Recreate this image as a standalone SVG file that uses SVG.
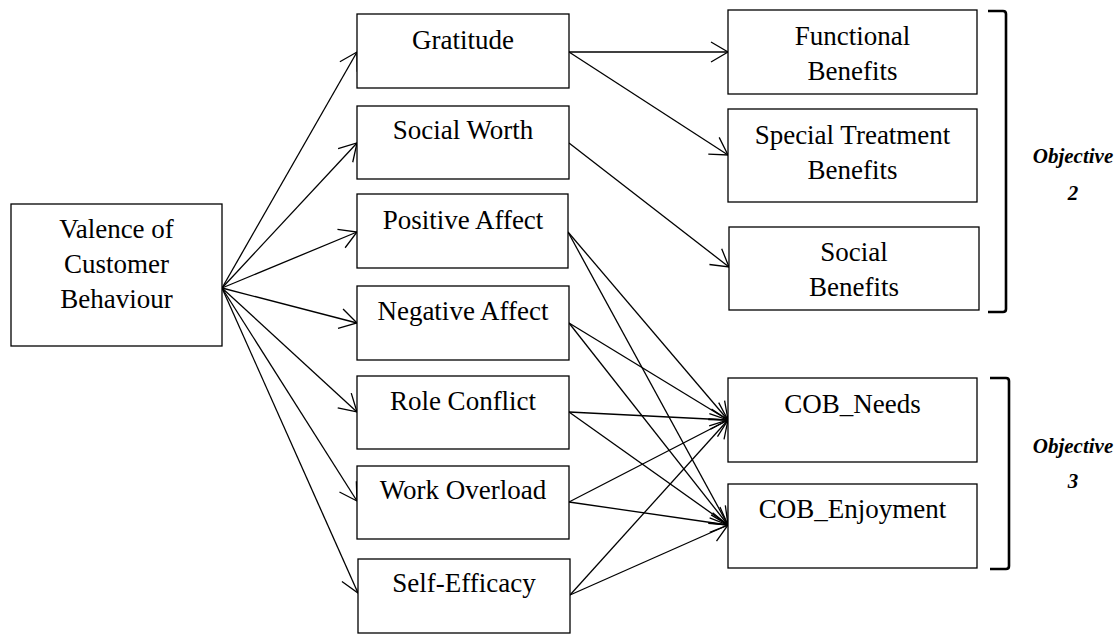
<svg xmlns="http://www.w3.org/2000/svg" width="1120" height="634" viewBox="0 0 1120 634">
  <style>
    .box { fill: #ffffff; stroke: #000000; stroke-width: 1.3; }
    .lbl { font-family: "Liberation Serif", "Times New Roman", serif; font-size: 27px; fill: #000000; text-anchor: middle; }
    .obj { font-family: "Liberation Serif", "Times New Roman", serif; font-size: 21px; font-weight: bold; font-style: italic; fill: #000000; text-anchor: middle; }
    .edge { fill: none; stroke: #000000; stroke-width: 1.3; marker-end: url(#open); }
    .brace { fill: none; stroke: #000000; stroke-width: 2.6; }
  </style>
  <defs>
    <marker id="open" markerUnits="userSpaceOnUse" markerWidth="24" markerHeight="24" refX="18" refY="11" orient="auto">
      <path d="M1,1 L18,11 L1,21" fill="none" stroke="#000000" stroke-width="1.3"/>
    </marker>
  </defs>

  <!-- connectors -->
  <g id="connectors">
    <line class="edge" x1="222" y1="288" x2="357" y2="52"/>
    <line class="edge" x1="222" y1="288" x2="357" y2="143"/>
    <line class="edge" x1="222" y1="288" x2="357" y2="232"/>
    <line class="edge" x1="222" y1="288" x2="357" y2="323"/>
    <line class="edge" x1="222" y1="288" x2="357" y2="412"/>
    <line class="edge" x1="222" y1="288" x2="357" y2="501"/>
    <line class="edge" x1="222" y1="288" x2="358" y2="593"/>

    <line class="edge" x1="569" y1="52" x2="728" y2="52"/>
    <line class="edge" x1="569" y1="52" x2="728" y2="155"/>
    <line class="edge" x1="569" y1="143" x2="729" y2="267"/>

    <line class="edge" x1="568" y1="232" x2="728" y2="420"/>
    <line class="edge" x1="568" y1="232" x2="728" y2="525"/>
    <line class="edge" x1="569" y1="323" x2="728" y2="420"/>
    <line class="edge" x1="569" y1="323" x2="728" y2="525"/>
    <line class="edge" x1="569" y1="412" x2="728" y2="420"/>
    <line class="edge" x1="569" y1="412" x2="728" y2="525"/>
    <line class="edge" x1="569" y1="502" x2="728" y2="420"/>
    <line class="edge" x1="569" y1="502" x2="728" y2="525"/>
    <line class="edge" x1="570" y1="595" x2="728" y2="420"/>
    <line class="edge" x1="570" y1="595" x2="728" y2="525"/>
  </g>

  <!-- source -->
  <g id="valence">
    <rect class="box" x="11" y="204" width="211" height="142"/>
    <text class="lbl" x="116.5" y="238">Valence of</text>
    <text class="lbl" x="116.5" y="273">Customer</text>
    <text class="lbl" x="116.5" y="308">Behaviour</text>
  </g>

  <!-- mediators -->
  <g id="gratitude">
    <rect class="box" x="357" y="14" width="212" height="74"/>
    <text class="lbl" x="463" y="49">Gratitude</text>
  </g>
  <g id="social-worth">
    <rect class="box" x="357" y="106" width="212" height="73"/>
    <text class="lbl" x="463" y="139">Social Worth</text>
  </g>
  <g id="positive-affect">
    <rect class="box" x="357" y="194" width="211" height="74"/>
    <text class="lbl" x="463" y="229">Positive Affect</text>
  </g>
  <g id="negative-affect">
    <rect class="box" x="357" y="286" width="212" height="74"/>
    <text class="lbl" x="463" y="320">Negative Affect</text>
  </g>
  <g id="role-conflict">
    <rect class="box" x="357" y="376" width="212" height="73"/>
    <text class="lbl" x="463" y="410">Role Conflict</text>
  </g>
  <g id="work-overload">
    <rect class="box" x="357" y="466" width="212" height="73"/>
    <text class="lbl" x="463" y="499">Work Overload</text>
  </g>
  <g id="self-efficacy">
    <rect class="box" x="358" y="559" width="212" height="74"/>
    <text class="lbl" x="464" y="592">Self-Efficacy</text>
  </g>

  <!-- outcomes, objective 2 -->
  <g id="functional-benefits">
    <rect class="box" x="728" y="10" width="249" height="84"/>
    <text class="lbl" x="852.5" y="45">Functional</text>
    <text class="lbl" x="852.5" y="80">Benefits</text>
  </g>
  <g id="special-treatment-benefits">
    <rect class="box" x="728" y="109" width="249" height="93"/>
    <text class="lbl" x="852.5" y="144">Special Treatment</text>
    <text class="lbl" x="852.5" y="179">Benefits</text>
  </g>
  <g id="social-benefits">
    <rect class="box" x="729" y="227" width="250" height="83"/>
    <text class="lbl" x="854" y="261">Social</text>
    <text class="lbl" x="854" y="296">Benefits</text>
  </g>

  <!-- outcomes, objective 3 -->
  <g id="cob-needs">
    <rect class="box" x="728" y="378" width="249" height="84"/>
    <text class="lbl" x="852.5" y="413">COB_Needs</text>
  </g>
  <g id="cob-enjoyment">
    <rect class="box" x="728" y="484" width="249" height="84"/>
    <text class="lbl" x="852.5" y="518">COB_Enjoyment</text>
  </g>

  <!-- objective brackets -->
  <g id="objective-2">
    <path class="brace" d="M988,11 L1003,11 Q1006,11 1006,14 L1006,309 Q1006,312 1003,312 L988,312"/>
    <text class="obj" x="1073" y="163">Objective</text>
    <text class="obj" x="1073" y="200">2</text>
  </g>
  <g id="objective-3">
    <path class="brace" d="M990,378 L1006,378 Q1009,378 1009,381 L1009,566 Q1009,569 1006,569 L990,569"/>
    <text class="obj" x="1073" y="453">Objective</text>
    <text class="obj" x="1073" y="488">3</text>
  </g>
</svg>
